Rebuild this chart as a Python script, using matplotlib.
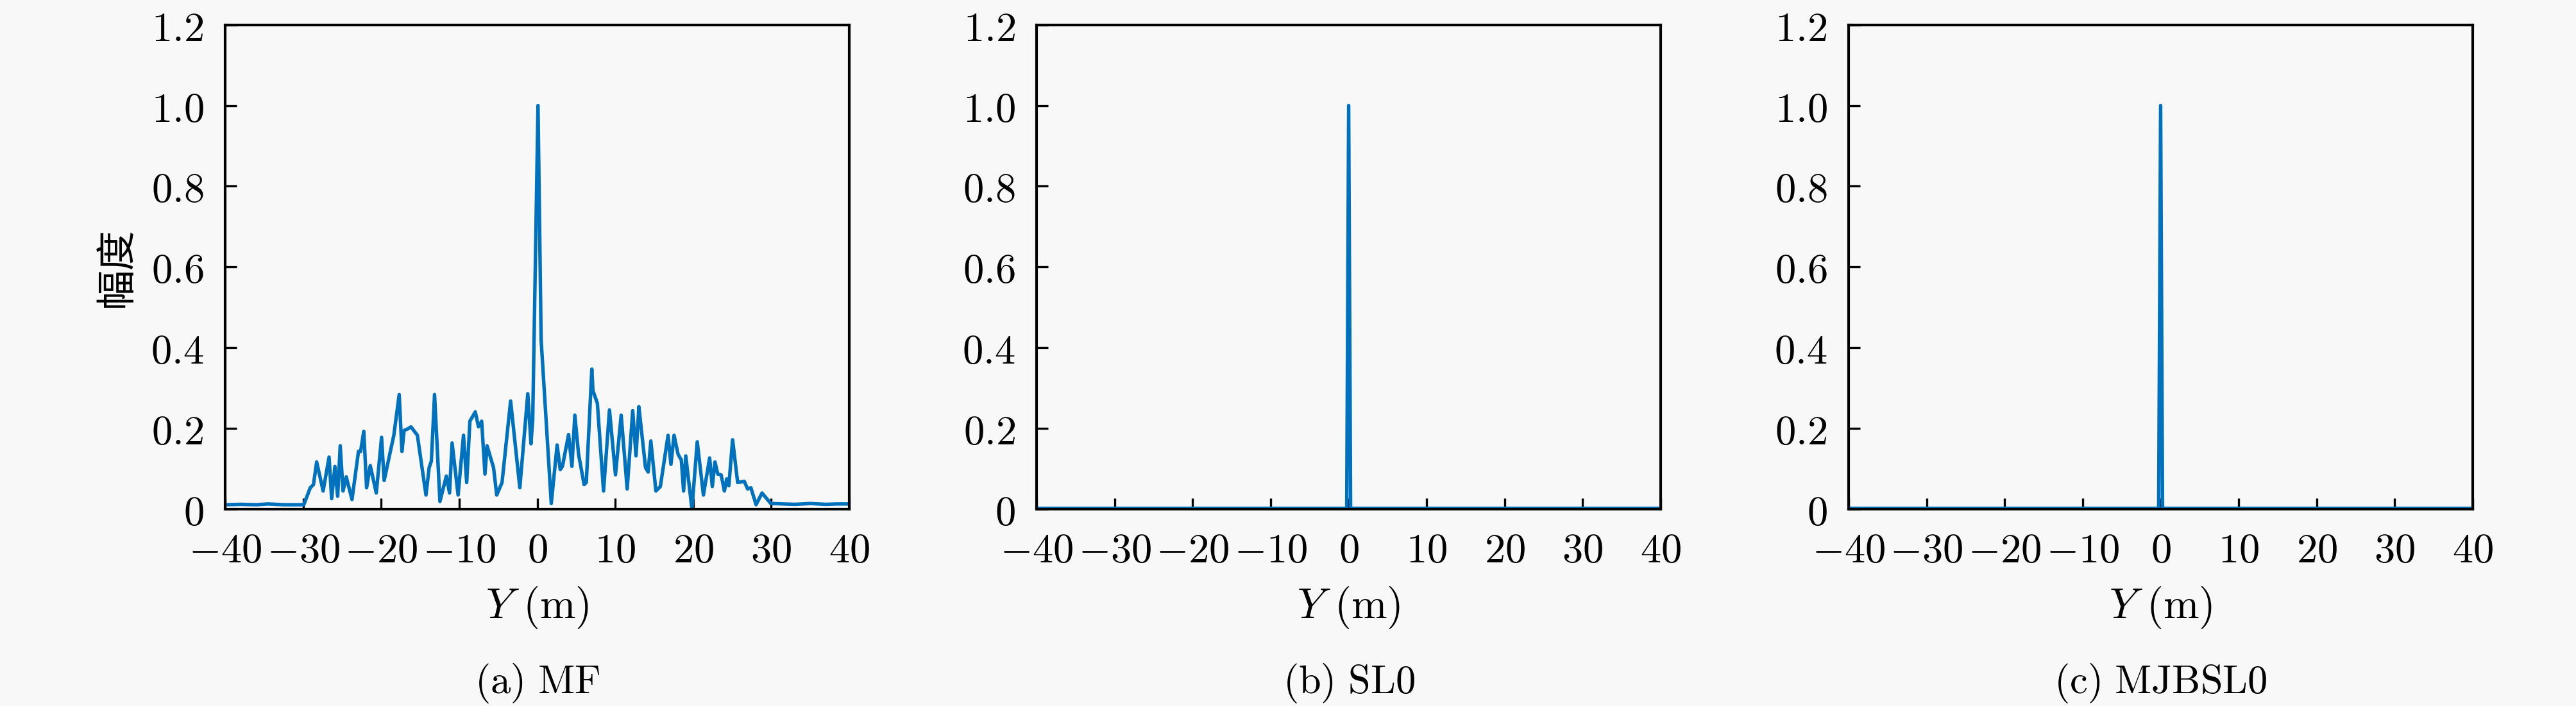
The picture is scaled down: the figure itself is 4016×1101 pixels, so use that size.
import matplotlib
matplotlib.use("Agg")
import matplotlib.pyplot as plt

plt.rcParams["mathtext.fontset"] = "cm"

BG = "#f8f8f8"
LINE = "#0072BD"

# MF range profile (vertices)
mf_y = [-40.0, -38.0, -36.0, -34.5, -32.5, -30.5, -29.92, -29.09, -28.68, -28.27,
        -27.44, -26.68, -26.35, -25.93, -25.58, -25.25, -24.89, -24.48, -23.74, -22.91,
        -22.64, -22.23, -21.87, -21.40, -20.63, -19.95, -19.62, -18.79, -18.38, -17.69,
        -17.34, -17.06, -16.59, -16.18, -15.36, -14.26, -13.85, -13.57, -13.16, -12.47,
        -11.65, -11.24, -10.91, -10.14, -9.45, -9.04, -8.63, -7.94, -7.53, -7.12,
        -6.70, -6.43, -5.60, -5.19, -4.51, -3.41, -2.23, -1.21, -0.80, -0.58,
        0.10, 0.50, 1.80, 2.55, 2.95, 3.23, 4.02, 4.45, 4.82, 5.30,
        6.01, 6.29, 7.00, 7.14, 7.71, 8.50, 9.26, 10.03, 10.76, 11.53,
        12.24, 12.66, 13.03, 13.23, 13.88, 14.22, 14.56, 15.21, 15.78, 16.77,
        17.14, 17.54, 18.05, 18.47, 18.76, 19.04, 19.83, 20.51, 21.30, 22.10,
        22.44, 22.78, 23.14, 23.57, 23.99, 24.28, 24.56, 25.04, 25.69, 26.54,
        26.97, 27.39, 28.05, 28.81, 29.94, 31.5, 33.0, 35.0, 37.0, 38.5, 40.0]
mf_amp = [0.011, 0.012, 0.011, 0.013, 0.011, 0.011, 0.011, 0.053, 0.061, 0.117,
          0.045, 0.129, 0.026, 0.106, 0.032, 0.157, 0.045, 0.080, 0.024, 0.143,
          0.143, 0.193, 0.053, 0.108, 0.040, 0.178, 0.071, 0.146, 0.183, 0.284,
          0.143, 0.195, 0.199, 0.204, 0.183, 0.035, 0.103, 0.119, 0.284, 0.019,
          0.082, 0.040, 0.164, 0.035, 0.183, 0.066, 0.218, 0.241, 0.204, 0.218,
          0.087, 0.157, 0.103, 0.035, 0.066, 0.268, 0.053, 0.286, 0.162, 0.220,
          1.000, 0.420, 0.014, 0.159, 0.098, 0.106, 0.185, 0.106, 0.233, 0.136,
          0.061, 0.066, 0.347, 0.294, 0.262, 0.045, 0.246, 0.085, 0.233, 0.050,
          0.244, 0.132, 0.254, 0.218, 0.103, 0.092, 0.169, 0.045, 0.056, 0.183,
          0.111, 0.183, 0.136, 0.122, 0.045, 0.132, 0.000, 0.167, 0.035, 0.127,
          0.056, 0.117, 0.087, 0.085, 0.045, 0.075, 0.058, 0.172, 0.066, 0.069,
          0.050, 0.053, 0.011, 0.040, 0.014, 0.013, 0.012, 0.014, 0.012, 0.013, 0.013]

# SL0 / MJBSL0: single point target
sl0_y = [-40.0, -0.25, 0.0, 0.25, 40.0]
sl0_amp = [0.002, 0.002, 1.0, 0.002, 0.002]
mjb_y = [-40.0, -0.25, 0.0, 0.25, 40.0]
mjb_amp = [0.002, 0.002, 1.0, 0.002, 0.002]

captions = ["(a) MF", "(b) SL0", "(c) MJBSL0"]
xticks = [-40, -30, -20, -10, 0, 10, 20, 30, 40]
xticklabels = [r"$-40$", r"$-30$", r"$-20$", r"$-10$", r"$0$", r"$10$", r"$20$", r"$30$", r"$40$"]
yticks = [0, 0.2, 0.4, 0.6, 0.8, 1.0, 1.2]
yticklabels = [r"$0$", r"$0.2$", r"$0.4$", r"$0.6$", r"$0.8$", r"$1.0$", r"$1.2$"]

fig = plt.figure(figsize=(4016 / 300, 1101 / 300), dpi=300, facecolor=BG)

lefts = [0.0874, 0.4024, 0.7176]
series = [(mf_y, mf_amp), (sl0_y, sl0_amp), (mjb_y, mjb_amp)]

for i, (left, (xs, ys)) in enumerate(zip(lefts, series)):
    ax = fig.add_axes([left, 0.2788, 0.2423, 0.6861], facecolor=BG)
    ax.plot(xs, ys, color=LINE, linewidth=1.3)
    ax.set_xlim(-40, 40)
    ax.set_ylim(0, 1.2)
    ax.set_xticks(xticks)
    ax.set_xticklabels(xticklabels)
    ax.set_yticks(yticks)
    ax.set_yticklabels(yticklabels)
    ax.tick_params(direction="in", length=4.2, width=0.8, labelsize=15.5,
                   pad=8, top=False, right=False)
    for sp in ax.spines.values():
        sp.set_linewidth(1.0)
    ax.set_xlabel(r"$Y\ (\mathrm{m})$", fontsize=16, labelpad=5)
    if i == 0:
        ax.set_ylabel("幅度", fontsize=15, labelpad=5,
                      family=["Noto Sans CJK SC", "DejaVu Sans"])
    fig.text(left + 0.2423 / 2, 0.032, captions[i].replace(" ", r"\ ").join(["$\\mathrm{", "}$"]),
             ha="center", va="center", fontsize=15)

fig.savefig("out.png", dpi=300, facecolor=BG)
